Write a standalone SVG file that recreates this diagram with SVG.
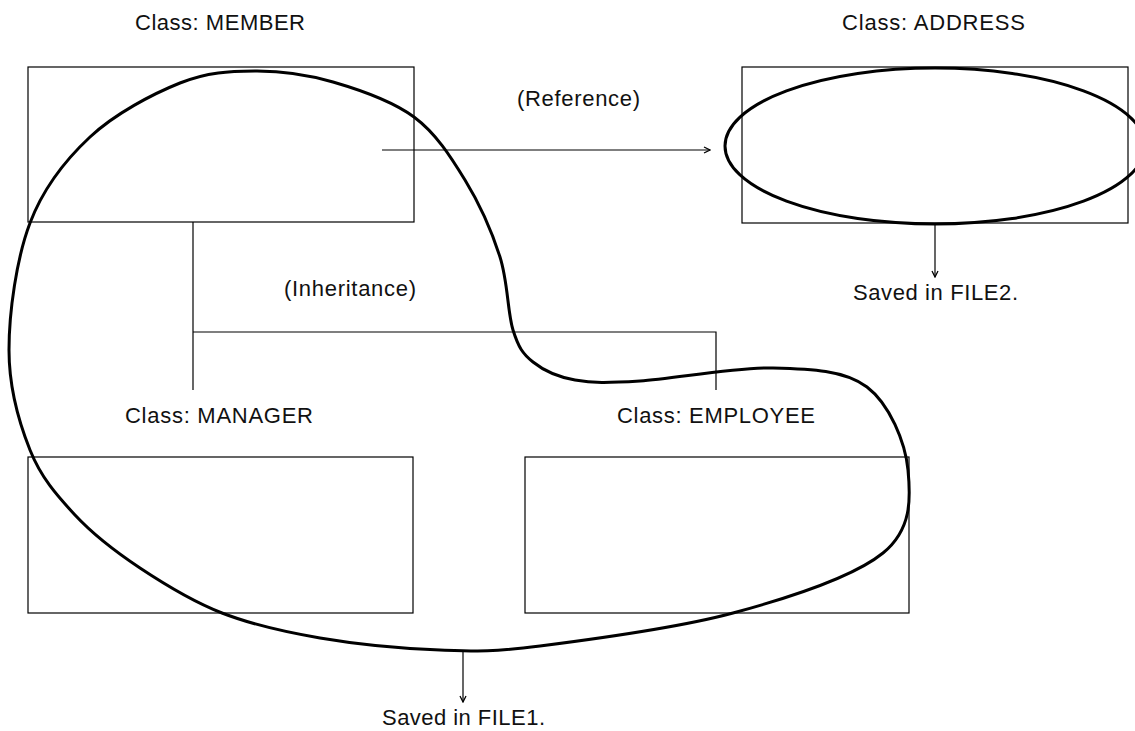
<svg xmlns="http://www.w3.org/2000/svg" width="1135" height="731" viewBox="0 0 1135 731">
<style>
  .box { fill: none; stroke: #000; stroke-width: 1.2; }
  .line { fill: none; stroke: #000; stroke-width: 1.2; }
  .blob { fill: none; stroke: #000; stroke-width: 3; }
  text { font-family: "Liberation Sans", Arial, sans-serif; font-size: 22px; fill: #111; }
</style>
<defs>
  <marker id="arr" viewBox="0 0 8 8" refX="7" refY="4" markerWidth="8" markerHeight="8" markerUnits="userSpaceOnUse" orient="auto">
    <path d="M1,1 L7,4 L1,7" fill="none" stroke="#000" stroke-width="1.3"/>
  </marker>
</defs>
<rect width="1135" height="731" fill="#fff"/>

<g id="member">
  <text x="135" y="30" textLength="170" lengthAdjust="spacing">Class: MEMBER</text>
  <rect class="box" x="28" y="67" width="386" height="155"/>
</g>
<g id="address">
  <text x="842" y="30" textLength="183" lengthAdjust="spacing">Class: ADDRESS</text>
  <rect class="box" x="742" y="67" width="386" height="156"/>
</g>
<g id="manager">
  <text x="125" y="423" textLength="188" lengthAdjust="spacing">Class: MANAGER</text>
  <rect class="box" x="28" y="457" width="385" height="156"/>
</g>
<g id="employee">
  <text x="617" y="423" textLength="198" lengthAdjust="spacing">Class: EMPLOYEE</text>
  <rect class="box" x="525" y="457" width="384" height="156"/>
</g>

<g id="connectors">
  <line class="line" x1="382" y1="150" x2="710" y2="150" marker-end="url(#arr)"/>
  <text x="517" y="106" textLength="123" lengthAdjust="spacing">(Reference)</text>
  <polyline class="line" points="193,222 193,390"/>
  <polyline class="line" points="193,332 716,332 716,390"/>
  <text x="284" y="296" textLength="132" lengthAdjust="spacing">(Inheritance)</text>
  <line class="line" x1="935" y1="224" x2="935" y2="277" marker-end="url(#arr)"/>
  <line class="line" x1="463" y1="650" x2="463" y2="702" marker-end="url(#arr)"/>
</g>

<g id="file1-region">
  <path class="blob" d="M30,223 C43.5,187.5 65,160.3 90,137 C115,113.7 152.5,94 180,83 C207.5,72 229.5,71.2 255,71 C280.5,70.8 306.5,74.3 333,82 C359.5,89.7 392,100.7 414,117 C436,133.3 450.7,156.7 465,180 C479.3,203.3 492,232 500,257 C508,282 507.5,312.5 513,330 C518.5,347.5 522.7,353.7 533,362 C543.3,370.3 557.2,376.8 575,380 C592.8,383.2 607,383 640,381 C673,379 735.2,367 773,368 C810.8,369 844.5,370 867,387 C889.5,404 905.3,442.3 908,470 C910.7,497.7 912.2,529.2 883,553 C853.8,576.8 790.2,597.5 733,613 C675.8,628.5 588.8,639.8 540,646 C491.2,652.2 476.7,651.3 440,650 C403.3,648.7 356.3,644.2 320,638 C283.7,631.8 252,624.7 222,613 C192,601.3 164.5,584.3 140,568 C115.5,551.7 93.3,534.7 75,515 C56.7,495.3 41,477.5 30,450 C19,422.5 9,387.8 9,350 C9,312.2 16.5,258.5 30,223 Z"/>
  <text x="382" y="725" textLength="163" lengthAdjust="spacing">Saved in FILE1.</text>
</g>
<g id="file2-region">
  <ellipse class="blob" cx="935" cy="146" rx="210" ry="78"/>
  <text x="853" y="300" textLength="165" lengthAdjust="spacing">Saved in FILE2.</text>
</g>
</svg>
